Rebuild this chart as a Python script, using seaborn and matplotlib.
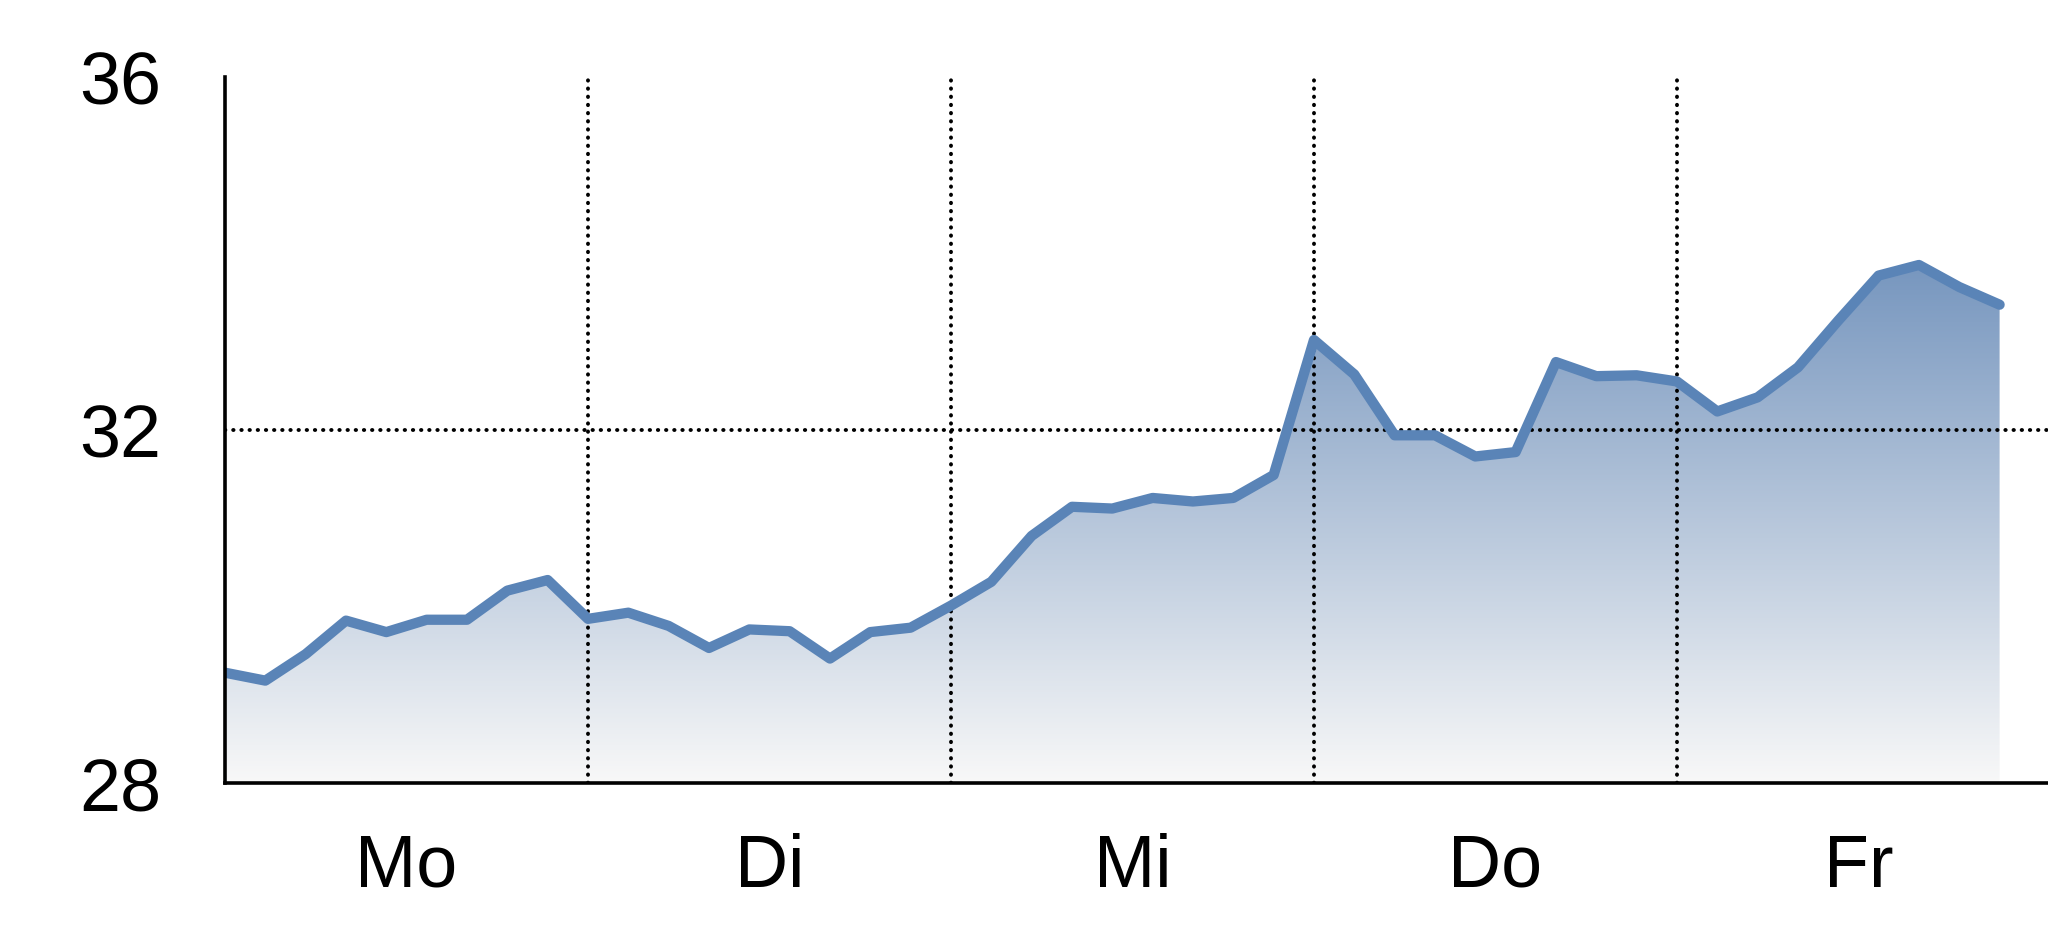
import numpy as np
import pandas as pd
import matplotlib
matplotlib.use("Agg")
import matplotlib.pyplot as plt
import seaborn as sns
from matplotlib.colors import LinearSegmentedColormap

# values, 9 readings per weekday
values = [29.25, 29.16, 29.46, 29.84, 29.71, 29.85, 29.85, 30.18, 30.30,
          29.86, 29.93, 29.78, 29.53, 29.74, 29.72, 29.41, 29.71, 29.76,
          30.01, 30.28, 30.80, 31.13, 31.11, 31.23, 31.19, 31.23, 31.49,
          33.02, 32.63, 31.94, 31.94, 31.70, 31.75, 32.77, 32.61, 32.62,
          32.55, 32.21, 32.37, 32.71, 33.24, 33.75, 33.87, 33.62, 33.42]
days = ["Mo", "Di", "Mi", "Do", "Fr"]
y_ticks = [28, 32, 36]
per_day = 9

df = pd.DataFrame({"t": np.arange(len(values)), "v": values})

sns.set_style("white")
plt.rcParams["font.family"] = ["Liberation Sans", "DejaVu Sans"]

fig = plt.figure(figsize=(20.48, 9.37), dpi=100)
ax = fig.add_axes([225 / 2048, 153 / 937, 1 - 225 / 2048, 706 / 937])

xmax = 45.2
ax.set_xlim(0, xmax)
ax.set_ylim(28, 36)

# gradient area under the line
line_col = "#5a84b7"
cmap = LinearSegmentedColormap.from_list("fade", ["#f8f8f8", "#4873aa"])
grad = np.linspace(0, 1, 256).reshape(-1, 1)
img = ax.imshow(grad, cmap=cmap, aspect="auto", origin="lower",
                extent=(0, xmax, 28, 36), zorder=1)
poly = ax.fill_between(df["t"], 28, df["v"], facecolor="none", edgecolor="none")
img.set_clip_path(poly.get_paths()[0], transform=ax.transData)

# dotted grid
dots = dict(color="black", lw=2.8, linestyle=(0, (0.1, 2.0)),
            dash_capstyle="round", zorder=2)
for k in range(1, len(days)):
    ax.axvline(k * per_day, **dots)
ax.axhline(32, **dots)

sns.lineplot(data=df, x="t", y="v", ax=ax, color=line_col, lw=7.4,
             solid_capstyle="round", solid_joinstyle="round", zorder=3)

ax.set_xticks([per_day * (i + 0.5) for i in range(len(days))])
ax.set_xticklabels(days)
ax.set_yticks(y_ticks)
ax.set_yticklabels([str(t) for t in y_ticks])
ax.tick_params(axis="x", length=0, pad=35, labelsize=53, labelcolor="black")
ax.tick_params(axis="y", length=0, pad=46, labelsize=53, labelcolor="black")
ax.set_xlabel("")
ax.set_ylabel("")

for s in ["top", "right"]:
    ax.spines[s].set_visible(False)
for s in ["left", "bottom"]:
    ax.spines[s].set_color("black")
    ax.spines[s].set_linewidth(2.6)
    ax.spines[s].set_zorder(4)

fig.savefig("out.png", dpi=100, facecolor="white")
